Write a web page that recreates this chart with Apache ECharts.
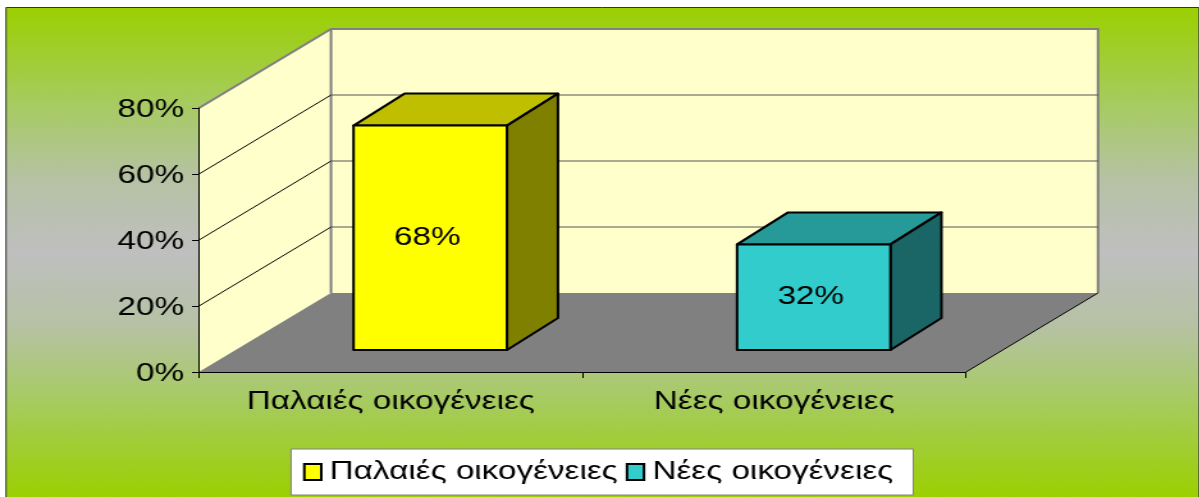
<!DOCTYPE html>
<html>
<head>
<meta charset="utf-8">
<title>Οικογένειες</title>
<style>
  html, body { margin: 0; padding: 0; background: #fff; overflow: hidden; }
  /* the reference is a picture stretched sideways, so the chart is stretched the same way */
  #main { width: 937px; height: 497px; transform-origin: 0 0; transform: scaleX(1.28); }
</style>
<script src="https://cdn.jsdelivr.net/npm/echarts@6/dist/echarts.min.js"></script>
</head>
<body>
<div id="main"></div>
<script>
// chart values
var categories = ['Παλαιές οικογένειες', 'Νέες οικογένειες'];
var barValues = [68, 32];
var yTicks = [20, 40, 60];
var yMax = 80;
var yStep = 20;

// same factor as the css transform, page x = chart x * stretch
var stretch = 1.28;
function sx(x) { return x / stretch; }

// 3d look: how far the floor goes back, and where the bars stand on it
var depthX = sx(132), depthY = -79;
var barOffX = sx(39.5), barOffY = -22;
var barDepthX = sx(51), barDepthY = -32;
var fontName = '"Liberation Sans", Arial, sans-serif';
var fontSize = 26;

var barColors = [
  { front: '#ffff00', top: '#bfbf00', side: '#808000' },
  { front: '#33cccc', top: '#269999', side: '#1a6666' }
];

function poly(points, fill, stroke, width) {
  return {
    type: 'polygon',
    shape: { points: points },
    style: { fill: fill, stroke: stroke || null, lineWidth: width || 0, lineJoin: 'round' }
  };
}

function line(points, stroke, width) {
  return {
    type: 'polyline',
    shape: { points: points },
    style: { fill: null, stroke: stroke, lineWidth: width }
  };
}

// left wall, back wall and floor
function renderWalls(params, api) {
  var bandW = api.size([1, 0])[0];
  var o = api.coord([0, 0]);
  var x0 = o[0] - bandW / 2;
  var x1 = x0 + bandW * categories.length;
  var y0 = o[1];
  var yT = api.coord([0, yMax])[1];
  var dx = depthX, dy = depthY;
  return {
    type: 'group',
    children: [
      poly([[x0, y0], [x0 + dx, y0 + dy], [x0 + dx, yT + dy], [x0, yT]], '#ffffcc'),
      poly([[x0 + dx, y0 + dy], [x1 + dx, y0 + dy], [x1 + dx, yT + dy], [x0 + dx, yT + dy]], '#ffffcc'),
      poly([[x0, y0], [x1, y0], [x1 + dx, y0 + dy], [x0 + dx, y0 + dy]], '#808080'),
      line([[x0, yT], [x0 + dx, yT + dy], [x1 + dx, yT + dy], [x1 + dx, y0 + dy]], '#808080', 2),
      line([[x0 + dx, yT + dy], [x0 + dx, y0 + dy]], '#808080', 2),
      line([[x1, y0], [x1 + dx, y0 + dy]], '#000', 1)
    ]
  };
}

// one gridline runs over the left wall, then along the back wall
function renderGrid(params, api) {
  var bandW = api.size([1, 0])[0];
  var o = api.coord([0, api.value(0)]);
  var x0 = o[0] - bandW / 2;
  var x1 = x0 + bandW * categories.length;
  var y = o[1];
  return {
    type: 'group',
    children: [
      line([[x0, y], [x0 + depthX, y + depthY]], '#000', 1),
      line([[x0 + depthX, y + depthY], [x1 + depthX, y + depthY]], '#555', 1)
    ]
  };
}

function renderBar(params, api) {
  var idx = api.value(0);
  var c = barColors[idx];
  var top = api.coord([idx, api.value(1)]);
  var base = api.coord([idx, 0]);
  var w = api.size([1, 0])[0] * 0.4;
  var l = top[0] - w / 2 + barOffX;
  var r = l + w;
  var t = top[1] + barOffY;
  var b = base[1] + barOffY;
  var dx = barDepthX, dy = barDepthY;
  return {
    type: 'group',
    children: [
      poly([[l, t], [r, t], [r + dx, t + dy], [l + dx, t + dy]], c.top, '#000', 2),
      poly([[r, t], [r + dx, t + dy], [r + dx, b + dy], [r, b]], c.side, '#000', 2),
      poly([[l, t], [r, t], [r, b], [l, b]], c.front, '#000', 2),
      {
        type: 'text',
        style: {
          x: (l + r) / 2 - sx(3),
          y: (t + b) / 2,
          text: api.value(1) + '%',
          fill: '#000',
          font: fontSize + 'px ' + fontName,
          align: 'center',
          verticalAlign: 'middle'
        }
      }
    ]
  };
}

var chart = echarts.init(document.getElementById('main'));

var series = [
  { type: 'custom', name: 'walls', silent: true, z: 1, renderItem: renderWalls, data: [[0]] },
  {
    type: 'custom', name: 'grid', silent: true, z: 2, renderItem: renderGrid,
    encode: { y: 0 },
    data: yTicks.map(function (v) { return [v]; })
  }
];
for (var i = 0; i < categories.length; i++) {
  series.push({
    type: 'custom',
    name: categories[i],
    z: 3,
    renderItem: renderBar,
    itemStyle: { color: barColors[i].front },
    encode: { x: 0, y: 1 },
    data: [[i, barValues[i]]]
  });
}

chart.setOption({
  animation: false,
  backgroundColor: '#fff',
  textStyle: { fontFamily: fontName },
  graphic: [{
    type: 'rect',
    z: -10,
    shape: { x: sx(6), y: 7.5, width: sx(1193), height: 490 },
    style: {
      stroke: '#333',
      lineWidth: 1,
      fill: new echarts.graphic.LinearGradient(0, 0, 0, 1, [
        { offset: 0, color: '#9bd000' },
        { offset: 0.2, color: '#a7cb62' },
        { offset: 0.35, color: '#b6c2a4' },
        { offset: 0.5, color: '#bfbfbf' },
        { offset: 0.65, color: '#b6c2a4' },
        { offset: 0.8, color: '#a7cb62' },
        { offset: 1, color: '#9bd000' }
      ])
    }
  }],
  grid: { left: sx(199), top: 108, width: sx(767), height: 264 },
  xAxis: {
    type: 'category',
    data: categories,
    z: 5,
    axisLine: { lineStyle: { color: '#000', width: 1 } },
    axisTick: { show: true, length: 6, lineStyle: { color: '#000' } },
    axisLabel: { color: '#000', fontSize: fontSize, fontFamily: fontName, margin: 17, interval: 0 },
    splitLine: { show: false }
  },
  yAxis: {
    type: 'value',
    min: 0,
    max: yMax,
    interval: yStep,
    z: 5,
    axisLine: { show: true, lineStyle: { color: '#000', width: 1 } },
    axisTick: { show: true, length: sx(7), lineStyle: { color: '#000' } },
    axisLabel: {
      color: '#000',
      fontSize: fontSize,
      fontFamily: fontName,
      margin: sx(15),
      verticalAlign: 'top',
      lineHeight: 4,
      formatter: '{value}%'
    },
    splitLine: { show: false }
  },
  legend: {
    data: categories,
    left: sx(291),
    top: 449,
    orient: 'horizontal',
    padding: [10, sx(20), 10, sx(12)],
    itemGap: sx(8),
    itemWidth: sx(17),
    itemHeight: 16,
    icon: 'rect',
    backgroundColor: '#fff',
    borderColor: '#808080',
    borderWidth: 1,
    borderRadius: 0,
    selectedMode: false,
    itemStyle: { borderColor: '#000', borderWidth: 2 },
    textStyle: { color: '#000', fontSize: fontSize, fontFamily: fontName, padding: [0, 0, 0, sx(2)] }
  },
  series: series
});
</script>
</body>
</html>
